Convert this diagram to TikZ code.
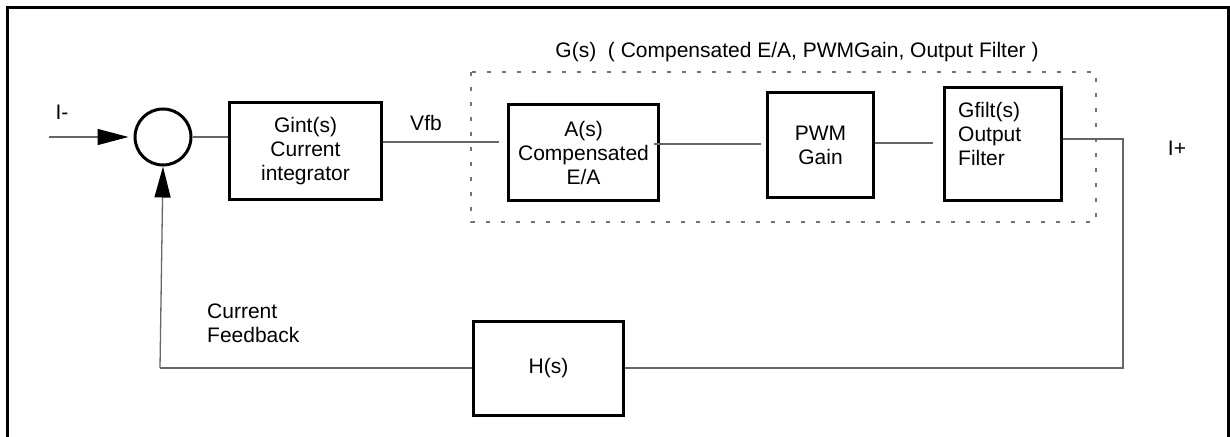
\documentclass[tikz,border=0pt]{standalone}
\usepackage{fontspec}
\setmainfont{Liberation Sans}
\usetikzlibrary{arrows.meta,calc}
\begin{document}
\begin{tikzpicture}[x=1pt,y=-1pt,
  font=\fontsize{21}{24}\selectfont,
  blk/.style={draw=black,line width=3pt,inner sep=0pt,align=center},
  wire/.style={draw=black!60,line width=1.3pt},
  arr/.style={wire,-{Triangle[length=31pt,width=16pt,color=black,fill=black]}},
  lbl/.style={inner sep=0pt,align=left},
  gbox/.style={draw=black!55,line width=1.3pt,dash pattern=on 4pt off 11pt}]
\useasboundingbox (0,0) rectangle (1230,436);
% outer frame
\draw[line width=3pt] (7,440) -- (7,8) -- (1228,8) -- (1228,440);
% dashed group
\draw[gbox] (471,72) rectangle (1096,222);
\node[lbl] (gtitle) at (797,52) {G(s)\ \ ( Compensated E/A, PWMGain, Output Filter )};
% nodes
\node[circle,draw=black,line width=3pt,minimum size=56pt,inner sep=0pt] (sum) at (163,137) {};
\node[blk,minimum width=152pt,minimum height=97pt] (gint) at (305.5,151) {Gint(s)\\Current\\integrator};
\node[blk,minimum width=150pt,minimum height=96pt] (A) at (583.5,152.5) {A(s)\\Compensated\\E/A};
\node[blk,minimum width=106pt,minimum height=105pt] (pwm) at (820.5,145) {PWM\\Gain};
\node[blk,minimum width=117pt,minimum height=113pt] (gfilt) at (1003,144) {};
\node[lbl,anchor=west] (gfilttxt) at ([xshift=15pt,yshift=10pt]gfilt.west) {Gfilt(s)\\Output\\Filter};
\node[blk,minimum width=150pt,minimum height=94pt] (H) at (548.5,368) {H(s)};
% labels
\node[lbl] (lminus) at (62,112) {I-};
\node[lbl] (lplus) at (1177,148) {I+};
\node[lbl] (lvfb) at (426,123) {Vfb};
\node[lbl,anchor=west] (lfb) at (207,323) {Current\\Feedback};
% coordinates
\coordinate (in) at (49,137);
\coordinate (vfbend) at (499,142);
\coordinate (apwm) at (761,144);
\coordinate (pwmg) at (933,143);
\coordinate (outc) at (1123,139);
\coordinate (fbr) at (1123,368);
\coordinate (fbl) at (160,368);
% connectors
\draw[arr] (in) -- ([xshift=-5pt]sum.west);
\draw[wire] (sum.east) -- (sum.east -| gint.west);
\draw[wire] (gint.east |- vfbend) -- (vfbend);
\draw[wire] ([xshift=-6pt]A.east |- apwm) -- (apwm);
\draw[wire] (pwm.east |- pwmg) -- (pwmg);
\draw[wire] (gfilt.east |- outc) -- (outc) -- (fbr) -- (H.east);
\draw[wire] (H.west) -- (fbl);
\draw[arr] (fbl) -- (sum.south);
\end{tikzpicture}
\end{document}
